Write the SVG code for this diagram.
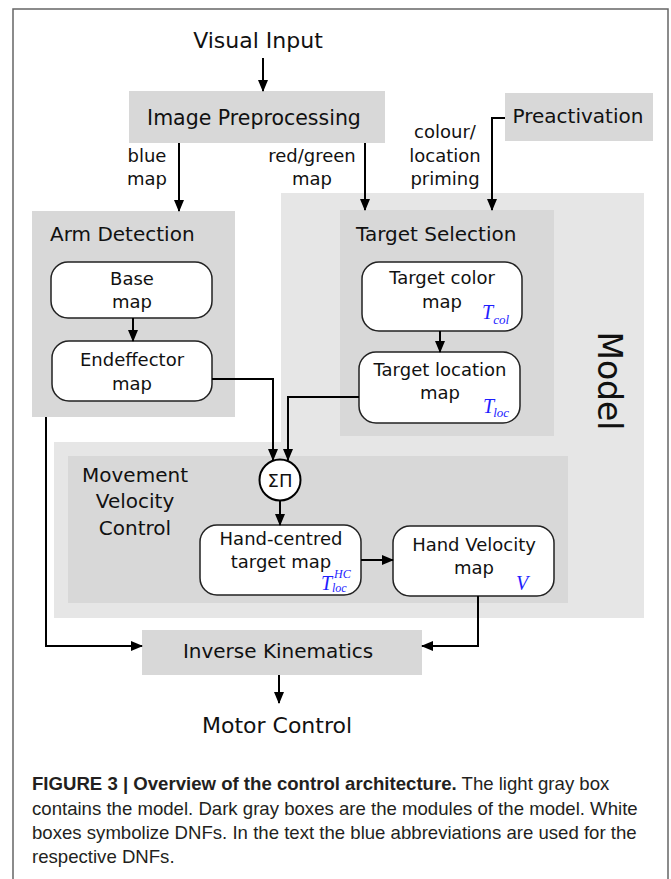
<svg xmlns="http://www.w3.org/2000/svg" width="671" height="879" viewBox="0 0 671 879">
<style>
.t{font-family:"DejaVu Sans","Liberation Sans",sans-serif;fill:#111}
.n{font-size:18px;text-anchor:middle}
.m{font-size:20px}
.lab{font-size:18px;text-anchor:middle}
.big{font-size:22px;text-anchor:middle}
.dark{fill:#d8d8d8}
.light{fill:#e6e6e6}
.dnf{fill:#fff;stroke:#222;stroke-width:1.5}
.c{fill:none;stroke:#000;stroke-width:2}
.math{font-family:"Liberation Serif","DejaVu Serif",serif;font-style:italic;fill:#1e1eff}
.cap{font-family:"Liberation Sans",Arial,sans-serif;font-size:18.6px;fill:#231f20}
</style>
<defs>
<marker id="ah" markerUnits="userSpaceOnUse" markerWidth="12" markerHeight="10" refX="11" refY="5" orient="auto">
<path d="M0,0 L12,5 L0,10 Z" fill="#000"/>
</marker>
</defs>
<rect width="671" height="879" fill="#fff"/>
<path d="M13,879 V9 H668 V879" fill="none" stroke="#666" stroke-width="1.5"/>

<g id="model">
<path class="light" d="M281,193 H644 V618 H54 V442 H281 Z"/>
<text class="t" transform="translate(598,381) rotate(90)" style="font-size:33px;text-anchor:middle">Model</text>
</g>

<g id="visual-input"><text class="t big" x="258" y="48">Visual Input</text></g>

<g id="image-preprocessing">
<rect class="dark" x="129" y="91" width="256" height="52"/>
<text class="t" x="254" y="125" style="font-size:20.5px;text-anchor:middle">Image Preprocessing</text>
</g>

<g id="preactivation">
<rect class="dark" x="505" y="93" width="148" height="48"/>
<text class="t m" x="578" y="123" text-anchor="middle">Preactivation</text>
</g>

<g id="arm-detection">
<rect class="dark" x="32" y="211" width="203" height="206"/>
<text class="t m" x="50" y="241">Arm Detection</text>
</g>
<g id="base-map">
<rect class="dnf" x="51" y="262" width="161" height="56" rx="17"/>
<text class="t n" x="132" y="285">Base</text>
<text class="t n" x="132" y="308">map</text>
</g>
<g id="endeffector-map">
<rect class="dnf" x="52" y="341" width="160" height="60" rx="17"/>
<text class="t n" x="132" y="366">Endeffector</text>
<text class="t n" x="132" y="390">map</text>
</g>

<g id="target-selection">
<rect class="dark" x="340" y="210" width="214" height="226"/>
<text class="t m" x="356" y="241">Target Selection</text>
</g>
<g id="target-color-map">
<rect class="dnf" x="362" y="262" width="160" height="69" rx="17"/>
<text class="t n" x="442" y="284">Target color</text>
<text class="t n" x="442" y="308">map</text>
<text class="math" x="482" y="319" style="font-size:20px">T<tspan dy="5" style="font-size:13px">col</tspan></text>
</g>
<g id="target-location-map">
<rect class="dnf" x="359" y="352" width="161" height="71" rx="17"/>
<text class="t n" x="440" y="376">Target location</text>
<text class="t n" x="440" y="399">map</text>
<text class="math" x="483" y="413" style="font-size:20px">T<tspan dx="-1" dy="4" style="font-size:13px">loc</tspan></text>
</g>

<g id="movement-velocity-control">
<rect class="dark" x="68" y="456" width="500" height="147"/>
<text class="t m" x="135" y="482" text-anchor="middle">Movement</text>
<text class="t m" x="135" y="508" text-anchor="middle">Velocity</text>
<text class="t m" x="135" y="535" text-anchor="middle">Control</text>
</g>
<g id="sigma-pi">
<circle cx="280" cy="480" r="20.5" fill="#fff" stroke="#000" stroke-width="2"/>
<text class="t" x="280" y="487" style="font-size:18px;text-anchor:middle">ΣΠ</text>
</g>
<g id="hand-centred-target-map">
<rect class="dnf" x="200" y="525" width="161" height="70" rx="17"/>
<text class="t n" x="281" y="545">Hand-centred</text>
<text class="t n" x="281" y="568">target map</text>
<text class="math" x="321" y="590" style="font-size:20px">T</text>
<text class="math" x="334" y="578" style="font-size:12px">HC</text>
<text class="math" x="332" y="592" style="font-size:12px">loc</text>
</g>
<g id="hand-velocity-map">
<rect class="dnf" x="393" y="526" width="161" height="70" rx="17"/>
<text class="t n" x="474" y="551">Hand Velocity</text>
<text class="t n" x="474" y="574">map</text>
<text class="math" x="516" y="590" style="font-size:20px">V</text>
</g>

<g id="inverse-kinematics">
<rect class="dark" x="142" y="630" width="280" height="45"/>
<text class="t m" x="278" y="658" text-anchor="middle">Inverse Kinematics</text>
</g>
<g id="motor-control"><text class="t big" x="277" y="733">Motor Control</text></g>

<g id="labels">
<text class="t lab" x="147" y="162">blue</text>
<text class="t lab" x="147" y="185">map</text>
<text class="t lab" x="312" y="162">red/green</text>
<text class="t lab" x="312" y="185">map</text>
<text class="t lab" x="445" y="138">colour/</text>
<text class="t lab" x="445" y="162">location</text>
<text class="t lab" x="445" y="185">priming</text>
</g>

<g id="connectors">
<path class="c" d="M263,58 V91" marker-end="url(#ah)"/>
<path class="c" d="M179,143 V211" marker-end="url(#ah)"/>
<path class="c" d="M365,143 V210" marker-end="url(#ah)"/>
<path class="c" d="M505,118 H492 V210" marker-end="url(#ah)"/>
<path class="c" d="M133,318 V341" marker-end="url(#ah)"/>
<path class="c" d="M440,331 V352" marker-end="url(#ah)"/>
<path class="c" d="M212,379 H273 V460" marker-end="url(#ah)"/>
<path class="c" d="M359,397 H288 V460" marker-end="url(#ah)"/>
<path class="c" d="M280,501 V525" marker-end="url(#ah)"/>
<path class="c" d="M361,560 H393" marker-end="url(#ah)"/>
<path class="c" d="M46,417 V646 H142" marker-end="url(#ah)"/>
<path class="c" d="M478,596 V646 H422" marker-end="url(#ah)"/>
<path class="c" d="M279,675 V703" marker-end="url(#ah)"/>
</g>

<g id="caption">
<text class="cap" x="32" y="790"><tspan font-weight="bold">FIGURE 3 | Overview of the control architecture.</tspan> The light gray box</text>
<text class="cap" x="32" y="815">contains the model. Dark gray boxes are the modules of the model. White</text>
<text class="cap" x="32" y="839">boxes symbolize DNFs. In the text the blue abbreviations are used for the</text>
<text class="cap" x="32" y="863">respective DNFs.</text>
</g>
</svg>
